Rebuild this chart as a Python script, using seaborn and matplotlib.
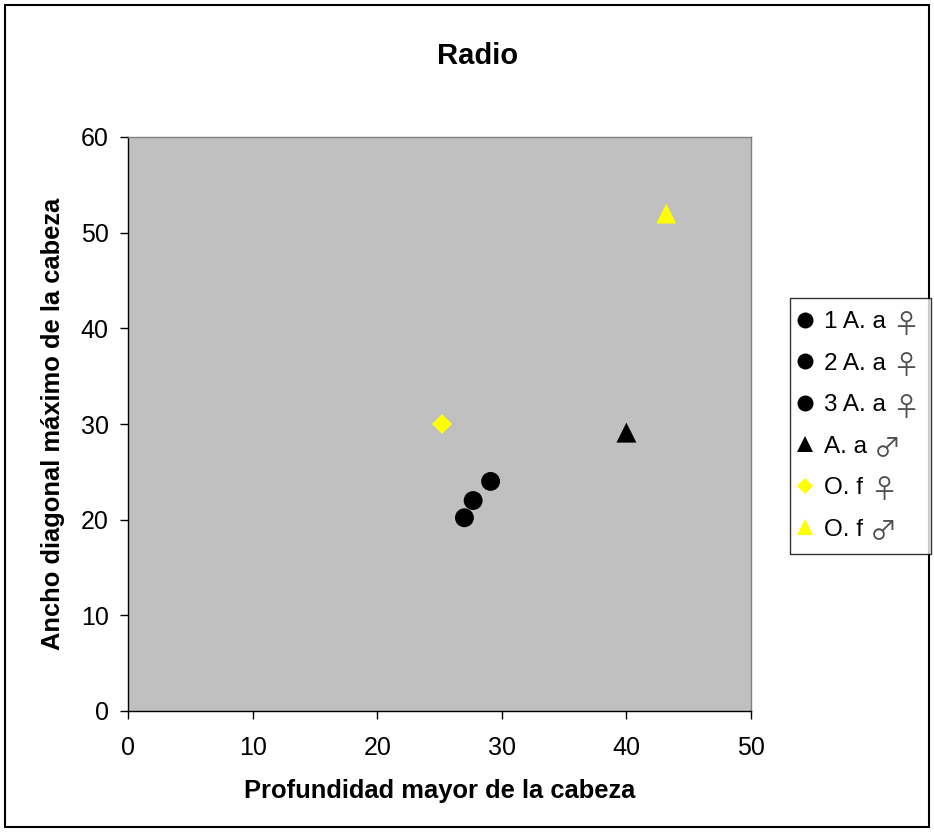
import matplotlib
matplotlib.use("Agg")
import matplotlib.pyplot as plt
import seaborn as sns
import pandas as pd
from matplotlib.lines import Line2D
from matplotlib.patches import Rectangle

labels = ["1 A. a", "2 A. a", "3 A. a", "A. a", "O. f", "O. f"]
sexes = ["♀", "♀", "♀", "♂", "♀", "♂"]
x_vals = [27.0, 27.7, 29.1, 40.0, 25.2, 43.2]
y_vals = [20.2, 22.0, 24.0, 29.1, 30.0, 52.0]
colors = ["#000000", "#000000", "#000000", "#000000", "#FFFF00", "#FFFF00"]
markers = ["o", "o", "o", "^", "D", "^"]
sizes = [185, 185, 185, 207, 104, 207]
legend_ms = [11.5, 11.5, 11.5, 12, 8.5, 12]

x_ticks = [0, 10, 20, 30, 40, 50]
y_ticks = [0, 10, 20, 30, 40, 50, 60]

sns.set_theme(style="white")
plt.rcParams["font.family"] = ["Liberation Sans", "DejaVu Sans"]
plt.rcParams["text.color"] = "black"
plt.rcParams["axes.labelcolor"] = "black"

fig = plt.figure(figsize=(9.34, 8.32), dpi=100)
ax = fig.add_axes([128 / 934, 1 - 711 / 832, (751 - 128) / 934, (711 - 137) / 832])
ax.set_facecolor("#C0C0C0")

df = pd.DataFrame({"x": x_vals, "y": y_vals, "label": [f"{l} {s}" for l, s in zip(labels, sexes)]})
for i in range(len(df)):
    sub = df.iloc[[i]]
    sns.scatterplot(data=sub, x="x", y="y", color=colors[i], marker=markers[i],
                    s=sizes[i], edgecolor="none", linewidth=0, ax=ax, legend=False,
                    zorder=3)

ax.set_xlim(0, 50)
ax.set_ylim(0, 60)
ax.set_xticks(x_ticks)
ax.set_yticks(y_ticks)
ax.tick_params(axis="both", direction="out", length=6, width=1, color="black",
               labelsize=18, labelcolor="black", left=True, bottom=True)
ax.tick_params(axis="x", pad=12)
ax.tick_params(axis="y", pad=8)
for side in ["left", "bottom"]:
    ax.spines[side].set_color("black")
    ax.spines[side].set_linewidth(1)
for side in ["top", "right"]:
    ax.spines[side].set_color("#808080")
    ax.spines[side].set_linewidth(1)
ax.grid(False)

ax.set_xlabel("Profundidad mayor de la cabeza", fontsize=18.4, fontweight="bold",
              labelpad=14, color="black")
ax.set_ylabel("Ancho diagonal máximo de la cabeza", fontsize=18.4, fontweight="bold",
              labelpad=11, color="black")

fig.text(478 / 934, 1 - 63.5 / 832, "Radio", fontsize=21, fontweight="bold",
         ha="center", va="baseline", color="black")

handles = [Line2D([], [], linestyle="none", marker=markers[i], color=colors[i],
                  markeredgewidth=0, markersize=legend_ms[i]) for i in range(len(labels))]
leg = fig.legend(handles, labels, loc="upper left",
                 bbox_to_anchor=(790 / 934, 1 - 552 / 832, 141 / 934, 254 / 832),
                 mode="expand", labelcolor="black",
                 fontsize=17.5, frameon=True, fancybox=False, shadow=False,
                 handlelength=0.12, handletextpad=0.72, labelspacing=0.8,
                 borderpad=0.55, borderaxespad=0)
leg.get_frame().set_edgecolor("black")
leg.get_frame().set_linewidth(1)
leg.get_frame().set_facecolor("white")

for txt, sym in zip(leg.get_texts(), sexes):
    fig.add_artist(matplotlib.text.Annotation(
        sym, xy=(1, 0.5), xycoords=txt, xytext=(5, -2), textcoords="offset points",
        ha="left", va="center", fontsize=19.5, color="#505050",
        family=["Noto Sans CJK JP", "DejaVu Sans"], zorder=10))

fig.patches.append(Rectangle((5 / 934, 5 / 832), 1 - 10 / 934, 1 - 10 / 832,
                             transform=fig.transFigure, fill=False,
                             edgecolor="black", linewidth=1.5))

fig.savefig("out.png", dpi=100, facecolor="white")
